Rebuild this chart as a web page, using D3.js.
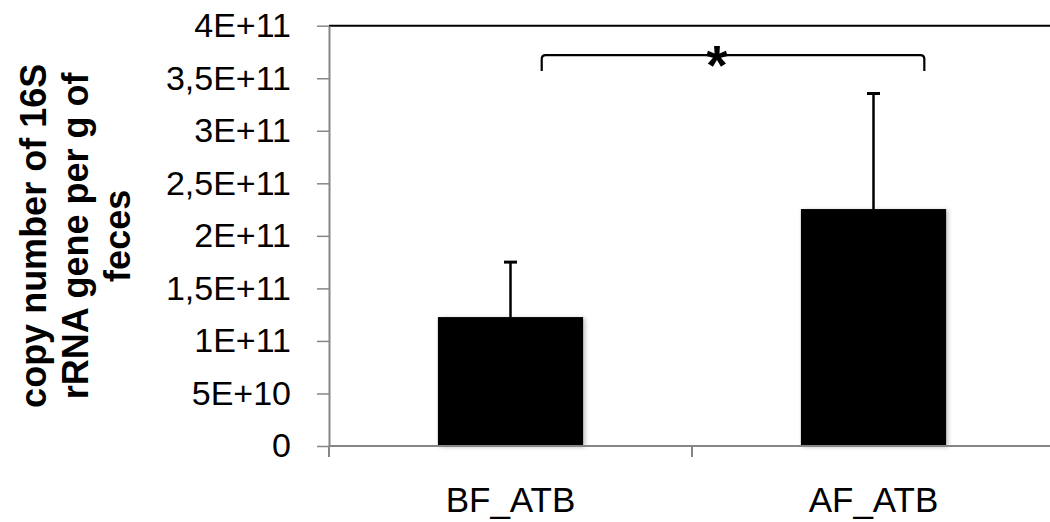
<!DOCTYPE html>
<head>
<style>
  body { margin: 0; background: #fff; }
  svg text { font-family: "Liberation Sans", Arial, sans-serif; fill: #000; }
</style>
</head>
<body>
<svg width="1050" height="522"></svg>
<script src="https://d3js.org/d3.v7.min.js"></script>
<script>

// chart data
var categories = ["BF_ATB", "AF_ATB"];
var means = [1.227e11, 2.255e11];
var errors = [0.523e11, 1.10e11];
var yTicks = [0, 5e10, 1e11, 1.5e11, 2e11, 2.5e11, 3e11, 3.5e11, 4e11];
var yTickLabels = ["0", "5E+10", "1E+11", "1,5E+11", "2E+11", "2,5E+11", "3E+11", "3,5E+11", "4E+11"];
var yTitle = ["copy number of 16S", "rRNA gene per g of", "feces"];
var signif = "*";

var svg = d3.select("svg");
// note: "top" is taken by window.top, so use plot* names
var plotLeft = 329, plotRight = 1055, plotTop = 25.7, plotBottom = 446;

var y = d3.scaleLinear().domain([0, 4e11]).range([plotBottom, plotTop]);
var x = d3.scaleBand().domain(categories).range([plotLeft, plotRight]);
var bw = x.bandwidth();

// soft shadow like the excel bars
var defs = svg.append("defs");
var f = defs.append("filter").attr("id", "shadow")
    .attr("x", "-10%").attr("y", "-10%").attr("width", "130%").attr("height", "130%");
f.append("feDropShadow").attr("dx", 2).attr("dy", 1).attr("stdDeviation", 2)
    .attr("flood-color", "#000").attr("flood-opacity", 0.25);

// top border of plot area
svg.append("line")
    .attr("x1", plotLeft).attr("x2", 1050)
    .attr("y1", plotTop).attr("y2", plotTop)
    .attr("stroke", "#000").attr("stroke-width", 2);

// y axis
var yAxis = svg.append("g")
    .attr("transform", "translate(" + plotLeft + ",0)")
    .call(d3.axisLeft(y)
      .tickValues(yTicks)
      .tickFormat(function(d, i) { return yTickLabels[i]; })
      .tickSize(12)
      .tickSizeOuter(0)
      .tickPadding(26));
yAxis.select(".domain").attr("stroke", "#868686").attr("stroke-width", 2);
yAxis.selectAll(".tick line").attr("stroke", "#868686").attr("stroke-width", 1.5);
yAxis.selectAll(".tick text")
    .attr("font-size", 34)
    .attr("font-family", "Liberation Sans, Arial, sans-serif")
    .attr("fill", "#000");

// bars
svg.append("g")
  .selectAll("rect")
  .data(categories)
  .enter().append("rect")
    .attr("x", function(d) { return x(d) + bw * 0.3; })
    .attr("width", bw * 0.4)
    .attr("y", function(d, i) { return y(means[i]); })
    .attr("height", function(d, i) { return plotBottom - y(means[i]); })
    .attr("fill", "#000")
    .attr("filter", "url(#shadow)");

// x axis line + ticks at category boundaries
svg.append("line")
    .attr("x1", plotLeft).attr("x2", 1050)
    .attr("y1", plotBottom).attr("y2", plotBottom)
    .attr("stroke", "#868686").attr("stroke-width", 2);
var bounds = categories.map(function(d) { return x(d); }).concat([plotRight]);
svg.append("g")
  .selectAll("line")
  .data(bounds)
  .enter().append("line")
    .attr("x1", function(d) { return d; }).attr("x2", function(d) { return d; })
    .attr("y1", plotBottom).attr("y2", plotBottom + 11)
    .attr("stroke", "#868686").attr("stroke-width", 2);

svg.append("g")
  .selectAll("text")
  .data(categories)
  .enter().append("text")
    .attr("x", function(d) { return x(d) + bw / 2; })
    .attr("y", 512)
    .attr("text-anchor", "middle")
    .attr("font-size", 35)
    .text(function(d) { return d; });

// error bars (upper half only)
var eb = svg.append("g").attr("stroke", "#000");
categories.forEach(function(c, i) {
  var cx = x(c) + bw / 2;
  eb.append("line")
      .attr("x1", cx).attr("x2", cx)
      .attr("y1", y(means[i])).attr("y2", y(means[i] + errors[i]))
      .attr("stroke-width", 2.5);
  eb.append("line")
      .attr("x1", cx - 6.5).attr("x2", cx + 6.5)
      .attr("y1", y(means[i] + errors[i])).attr("y2", y(means[i] + errors[i]))
      .attr("stroke-width", 3);
});

// significance bracket
var bx1 = x(categories[0]) + bw * 0.586;
var bx2 = x(categories[1]) + bw * 0.64;
var byTop = y(3.72e11), byEnd = y(3.57e11), r = 4;
svg.append("path")
    .attr("d", "M" + bx1 + "," + byEnd + " L" + bx1 + "," + (byTop + r) +
               " Q" + bx1 + "," + byTop + " " + (bx1 + r) + "," + byTop +
               " L" + (bx2 - r) + "," + byTop +
               " Q" + bx2 + "," + byTop + " " + bx2 + "," + (byTop + r) +
               " L" + bx2 + "," + byEnd)
    .attr("fill", "none").attr("stroke", "#000").attr("stroke-width", 2.2);
svg.append("text")
    .attr("x", (bx1 + bx2) / 2 - 16)
    .attr("y", 84)
    .attr("text-anchor", "middle")
    .attr("font-size", 56)
    .attr("font-weight", "bold")
    .text(signif);

// y title, three rotated lines
var title = svg.append("text")
    .attr("transform", "translate(0," + ((plotTop + plotBottom) / 2) + ") rotate(-90)")
    .attr("text-anchor", "middle")
    .attr("font-size", 36)
    .attr("font-weight", "bold");
yTitle.forEach(function(line, i) {
  title.append("tspan")
      .attr("x", 0)
      .attr("y", 46 + i * 42)
      .text(line);
});

</script>
</body>
